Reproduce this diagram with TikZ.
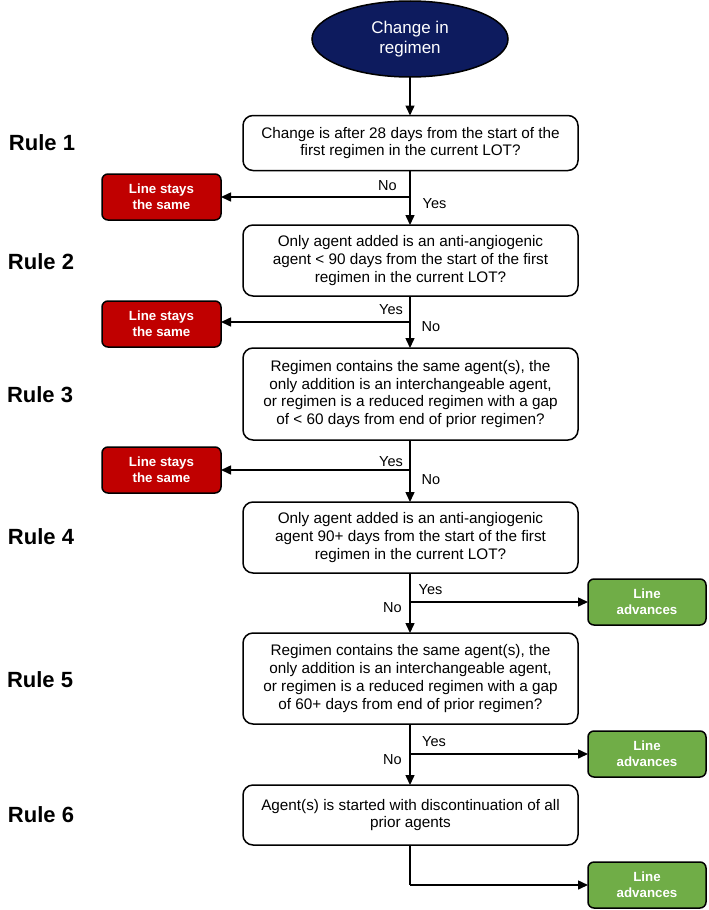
\documentclass[tikz,border=0pt]{standalone}
\usepackage{fontspec}
\setmainfont{Liberation Sans}
\usetikzlibrary{shapes.geometric,arrows.meta}
\definecolor{navy}{HTML}{0D1B5E}
\definecolor{redbox}{HTML}{C00000}
\definecolor{greenbox}{HTML}{70AD47}
\begin{document}
\begin{tikzpicture}[x=1pt,y=-1pt,
  every node/.style={inner sep=0pt,outer sep=0pt},
  qbox/.style={draw=black,line width=1.5pt,rounded corners=10pt,fill=white,
    minimum width=335pt,align=center,font=\fontsize{15.3}{17.8}\selectfont},
  stopbox/.style={draw=black,line width=1.5pt,rounded corners=6pt,fill=redbox,
    minimum width=119pt,minimum height=46pt,align=center,text=white,
    font=\fontsize{13.3}{16}\selectfont\bfseries},
  gobox/.style={draw=black,line width=1.5pt,rounded corners=6pt,fill=greenbox,
    minimum width=118pt,minimum height=46pt,align=center,text=white,
    font=\fontsize{13.3}{16}\selectfont\bfseries},
  rulelbl/.style={anchor=west,font=\fontsize{22}{25}\selectfont\bfseries},
  yn/.style={font=\fontsize{14.5}{17}\selectfont},
  flow/.style={line width=1.5pt},
  arr/.style={line width=1.5pt,-{Triangle[length=10pt,width=9pt]}}]
\useasboundingbox (0,0) rectangle (709,910);
% start
\node[ellipse,draw=black,line width=1.5pt,fill=navy,minimum width=196pt,minimum height=76pt,
  text=white,align=center,font=\fontsize{17}{20}\selectfont] (start) at (410,39) {Change in\\regimen};
% question boxes
\node[qbox,minimum height=55pt] (q1) at (410.5,143) {Change is after 28 days from the start of the\\first regimen in the current LOT?};
\node[qbox,minimum height=71pt] (q2) at (410.5,260.5) {Only agent added is an anti-angiogenic\\agent < 90 days from the start of the first\\regimen in the current LOT?};
\node[qbox,minimum height=92pt] (q3) at (410.5,394) {Regimen contains the same agent(s), the\\only addition is an interchangeable agent,\\or regimen is a reduced regimen with a gap\\of < 60 days from end of prior regimen?};
\node[qbox,minimum height=71pt] (q4) at (410.5,537.5) {Only agent added is an anti-angiogenic\\agent 90+ days from the start of the first\\regimen in the current LOT?};
\node[qbox,minimum height=91pt] (q5) at (410.5,678.5) {Regimen contains the same agent(s), the\\only addition is an interchangeable agent,\\or regimen is a reduced regimen with a gap\\of 60+ days from end of prior regimen?};
\node[qbox,minimum height=60pt] (q6) at (410.5,815) {Agent(s) is started with discontinuation of all\\prior agents};
% rule labels
\node[rulelbl] (r1) at (9,143) {Rule 1};
\node[rulelbl] (r2) at (8,262) {Rule 2};
\node[rulelbl] (r3) at (7,395) {Rule 3};
\node[rulelbl] (r4) at (8,537) {Rule 4};
\node[rulelbl] (r5) at (7,680) {Rule 5};
\node[rulelbl] (r6) at (8,815) {Rule 6};
% outcome boxes
\node[stopbox] (s1) at (161.5,197) {Line stays\\the same};
\node[stopbox] (s2) at (161.5,324) {Line stays\\the same};
\node[stopbox] (s3) at (161.5,470) {Line stays\\the same};
\node[gobox] (g1) at (647,602) {Line\\advances};
\node[gobox] (g2) at (647,754) {Line\\advances};
\node[gobox] (g3) at (647,885) {Line\\advances};
% junctions
\coordinate (j1) at (410,197);
\coordinate (j2) at (410,322);
\coordinate (j3) at (410,470);
\coordinate (j4) at (410,602);
\coordinate (j5) at (410,754);
\coordinate (j6) at (410,885);
% connectors
\draw[arr] (start.south) -- (start.south |- q1.north);
\draw[flow] (q1.south -| j1) -- (j1);
\draw[arr] (j1) -- (s1.east);
\draw[arr] (j1) -- (j1 |- q2.north);
\draw[flow] (q2.south -| j2) -- (j2);
\draw[arr] (j2) -- (s2.east |- j2);
\draw[arr] (j2) -- (j2 |- q3.north);
\draw[flow] (q3.south -| j3) -- (j3);
\draw[arr] (j3) -- (s3.east);
\draw[arr] (j3) -- (j3 |- q4.north);
\draw[flow] (q4.south -| j4) -- (j4);
\draw[arr] (j4) -- (g1.west);
\draw[arr] (j4) -- (j4 |- q5.north);
\draw[flow] (q5.south -| j5) -- (j5);
\draw[arr] (j5) -- (g2.west);
\draw[arr] (j5) -- (j5 |- q6.north);
\draw[flow] (q6.south -| j6) -- (j6);
\draw[arr] (j6) -- (g3.west);
% yes/no labels
\node[yn] (n1) at (387.5,186) {No};
\node[yn] (y1) at (434.5,204) {Yes};
\node[yn] (y2) at (391,310) {Yes};
\node[yn] (n2) at (431,327) {No};
\node[yn] (y3) at (391,462) {Yes};
\node[yn] (n3) at (431,480) {No};
\node[yn] (y4) at (430.5,590) {Yes};
\node[yn] (n4) at (392.5,608) {No};
\node[yn] (y5) at (434,742) {Yes};
\node[yn] (n5) at (392.5,760) {No};
\end{tikzpicture}
\end{document}
